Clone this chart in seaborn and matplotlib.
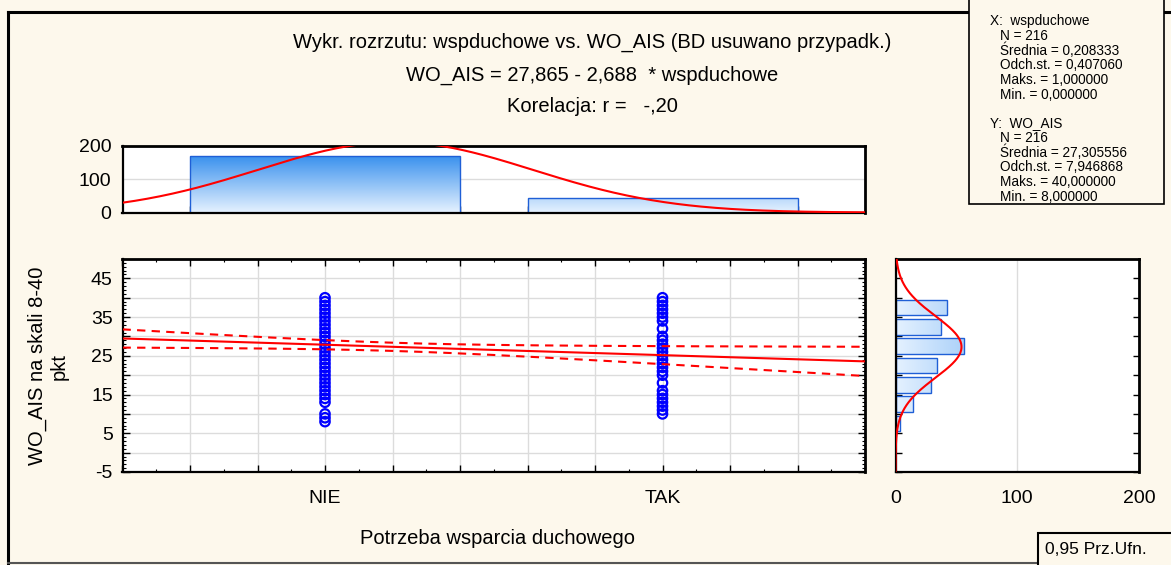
import numpy as np
import pandas as pd
import matplotlib
matplotlib.use('Agg')
import matplotlib.pyplot as plt
import seaborn as sns
from matplotlib.colors import LinearSegmentedColormap
from matplotlib.patches import Rectangle
from matplotlib.lines import Line2D

# --- data ---
groups = ['NIE', 'TAK']
group_counts = [171, 45]
nie_values = [8, 9, 10] + list(range(13, 41))
tak_values = list(range(10, 17)) + [18] + list(range(20, 31)) + [32] + list(range(34, 41))
score_edges = [5, 10, 15, 20, 25, 30, 35, 40]
score_counts = [4, 14, 29, 34, 56, 37, 42]

# summary stats printed on the chart
n_obs = 216
x_mean, x_sd = 0.208333, 0.407060
y_mean, y_sd = 27.305556, 7.946868
intercept, slope = 27.865, -2.688

bg = '#FDF8EC'
grid_col = '#DCDCDC'
bar_edge = '#1F5FD6'
grad_cmap = LinearSegmentedColormap.from_list('bluegrad', ['#E4F1FF', '#1A7FEA'])

plt.rcParams['font.family'] = ['Liberation Sans', 'DejaVu Sans']

W, H = 1171, 565
fig = plt.figure(figsize=(W / 100, H / 100), dpi=100, facecolor=bg)


def px(l, t, r, b):
    return [l / W, 1 - b / H, (r - l) / W, (b - t) / H]


def fx(x):
    return x / W


def fy(y):
    return 1 - y / H


ax = fig.add_axes(px(122.5, 259, 865, 472))
axt = fig.add_axes(px(122.5, 146, 865, 212.5))
axr = fig.add_axes(px(895.5, 259, 1139, 472))
for a in (ax, axt, axr):
    a.set_facecolor('white')
    for s in a.spines.values():
        s.set_linewidth(1.6)
        s.set_color('black')
    a.spines['top'].set_linewidth(2.0)
    a.spines['right'].set_linewidth(2.0)


def gradient_bars(a, patches, horizontal):
    xl, yl = a.get_xlim(), a.get_ylim()
    grad = np.linspace(0, 1, 256)
    if horizontal:
        img, ext = grad.reshape(1, -1), [0, 200, yl[0], yl[1]]
    else:
        img, ext = grad.reshape(-1, 1), [xl[0], xl[1], 0, 200]
    for p in patches:
        p.set_facecolor('none')
        p.set_edgecolor(bar_edge)
        p.set_linewidth(1.0)
        p.set_zorder(2)
        im = a.imshow(img, cmap=grad_cmap, extent=ext, origin='lower',
                      aspect='auto', zorder=1.5, interpolation='bilinear')
        im.set_clip_path(p)
    a.set_xlim(xl)
    a.set_ylim(yl)


# --- main scatter ---
df = pd.DataFrame({'x': [0] * len(nie_values) + [1] * len(tak_values),
                   'y': nie_values + tak_values})
sns.scatterplot(data=df, x='x', y='y', ax=ax, marker='o', s=46,
                facecolors='none', edgecolors='#0000FF', linewidth=1.6, zorder=3)

xs = np.linspace(-0.6, 1.6, 200)
yhat = intercept + slope * xs
r = slope * x_sd / y_sd
se_res = y_sd * np.sqrt((1 - r ** 2) * (n_obs - 1) / (n_obs - 2))
sxx = (n_obs - 1) * x_sd ** 2
half = 1.971 * se_res * np.sqrt(1 / n_obs + (xs - x_mean) ** 2 / sxx)
sns.lineplot(x=xs, y=yhat, ax=ax, color='red', lw=1.5, zorder=4)
sns.lineplot(x=xs, y=yhat + half, ax=ax, color='red', lw=1.5, zorder=4)
sns.lineplot(x=xs, y=yhat - half, ax=ax, color='red', lw=1.5, zorder=4)
for ln in ax.lines[1:]:
    ln.set_linestyle((0, (4, 3)))

ax.set_xlim(-0.6, 1.6)
ax.set_ylim(-5, 50)
xt = np.round(np.arange(-0.6, 1.61, 0.2), 1)
ax.set_xticks(xt)
ax.set_xticklabels(['NIE' if v == 0 else ('TAK' if v == 1 else '') for v in xt])
ax.set_xticks(np.arange(-0.6, 1.61, 0.1), minor=True)
yt = np.arange(-5, 50, 5)
ax.set_yticks(yt)
ax.set_yticklabels([str(v) if v % 10 != 0 else '' for v in yt])
ax.set_yticks(np.arange(-5, 51, 1), minor=True)
ax.tick_params(which='both', direction='in', top=True, right=True, labelsize=14)
ax.tick_params(which='major', length=5, width=1)
ax.tick_params(which='minor', length=2.5, width=0.8)
ax.tick_params(axis='x', pad=13)
ax.tick_params(axis='y', pad=7)
ax.grid(True, which='major', color=grid_col, lw=1)
ax.set_axisbelow(True)
ax.set_xlabel('')
ax.set_ylabel('')

# --- top histogram ---
sns.barplot(x=groups, y=group_counts, ax=axt, width=0.8, color='#7FBFFF')
axt.set_xlim(-0.6, 1.6)
axt.set_ylim(0, 200)
gradient_bars(axt, axt.patches, horizontal=False)
xd = np.linspace(-0.6, 1.6, 300)
dens_x = n_obs * 1.0 * np.exp(-0.5 * ((xd - x_mean) / x_sd) ** 2) / (x_sd * np.sqrt(2 * np.pi))
sns.lineplot(x=xd, y=dens_x, ax=axt, color='red', lw=1.5, zorder=4)
axt.set_xlim(-0.6, 1.6)
axt.set_ylim(0, 200)
axt.set_xticks(np.arange(-0.4, 1.41, 0.2))
axt.set_xticklabels([])
axt.set_yticks([0, 100, 200])
axt.tick_params(axis='x', direction='in', length=5, width=1)
axt.tick_params(axis='y', direction='in', length=0, labelsize=14, pad=8)
axt.grid(True, axis='y', color=grid_col, lw=1)
axt.set_axisbelow(True)
axt.set_xlabel('')
axt.set_ylabel('')

# --- right histogram ---
centers = [(a + b) / 2 for a, b in zip(score_edges[:-1], score_edges[1:])]
sns.histplot(y=centers, weights=score_counts, bins=score_edges, shrink=0.8,
             ax=axr, color='#7FBFFF')
axr.set_xlim(0, 200)
axr.set_ylim(-5, 50)
gradient_bars(axr, axr.patches, horizontal=True)
yd = np.linspace(-5, 50, 300)
dens_y = n_obs * 5 * np.exp(-0.5 * ((yd - y_mean) / y_sd) ** 2) / (y_sd * np.sqrt(2 * np.pi))
sns.lineplot(x=dens_y, y=yd, ax=axr, color='red', lw=1.5, sort=False, estimator=None, zorder=4)
axr.set_xlim(0, 200)
axr.set_ylim(-5, 50)
axr.set_xticks([0, 100, 200])
axr.set_yticks(np.arange(-5, 50, 5))
axr.set_yticklabels([])
axr.tick_params(axis='y', direction='in', left=True, right=True, length=4, width=1)
axr.tick_params(axis='x', direction='in', length=0, labelsize=14, pad=13)
axr.grid(True, axis='x', color=grid_col, lw=1)
axr.set_axisbelow(True)
axr.set_xlabel('')
axr.set_ylabel('')

# --- titles and labels ---
fig.text(fx(592), fy(42), 'Wykr. rozrzutu: wspduchowe vs. WO_AIS (BD usuwano przypadk.)',
         ha='center', va='center', fontsize=14.5)
fig.text(fx(592), fy(75), 'WO_AIS = 27,865 - 2,688  * wspduchowe',
         ha='center', va='center', fontsize=14.5)
fig.text(fx(592), fy(107), 'Korelacja: r =   -,20', ha='center', va='center', fontsize=14.5)
fig.text(fx(48), fy(366), 'WO_AIS na skali 8-40\npkt', rotation=90, ha='center',
         va='center', multialignment='center', fontsize=14.5)
fig.text(fx(497), fy(538), 'Potrzeba wsparcia duchowego', ha='center', va='center', fontsize=14.5)

# outer frame
fig.add_artist(Line2D([fx(8), fx(8)], [fy(12), fy(563)], color='black', lw=2.2))
fig.add_artist(Line2D([fx(8), fx(1175)], [fy(12), fy(12)], color='black', lw=2.2))
fig.add_artist(Line2D([fx(8), fx(1175)], [fy(563), fy(563)], color='#555555', lw=1.5))

# stats box
fig.add_artist(Rectangle((fx(969), fy(204)), fx(1164) - fx(969), fy(-5) - fy(204),
                         transform=fig.transFigure, facecolor=bg, edgecolor='black', lw=1.2, zorder=5))
stats_x = ['X:  wspduchowe', 'N = 216', 'Średnia = 0,208333', 'Odch.st. = 0,407060',
           'Maks. = 1,000000', 'Min. = 0,000000']
stats_y = ['Y:  WO_AIS', 'N = 216', 'Średnia = 27,305556', 'Odch.st. = 7,946868',
           'Maks. = 40,000000', 'Min. = 8,000000']
for block, y0 in ((stats_x, 21), (stats_y, 123)):
    for i, t in enumerate(block):
        xpos = 990 if i == 0 else 1000
        fig.text(fx(xpos), fy(y0 + i * 14.8), t, ha='left', va='center', fontsize=9.8, zorder=6)

# confidence box
fig.add_artist(Rectangle((fx(1037.5), fy(570)), fx(1180) - fx(1037.5), fy(533) - fy(570),
                         transform=fig.transFigure, facecolor=bg, edgecolor='black', lw=1.5, zorder=5))
fig.text(fx(1045), fy(550), '0,95 Prz.Ufn.', ha='left', va='center', fontsize=12.5, zorder=6)

fig.savefig('out.png', dpi=100, facecolor=bg)
